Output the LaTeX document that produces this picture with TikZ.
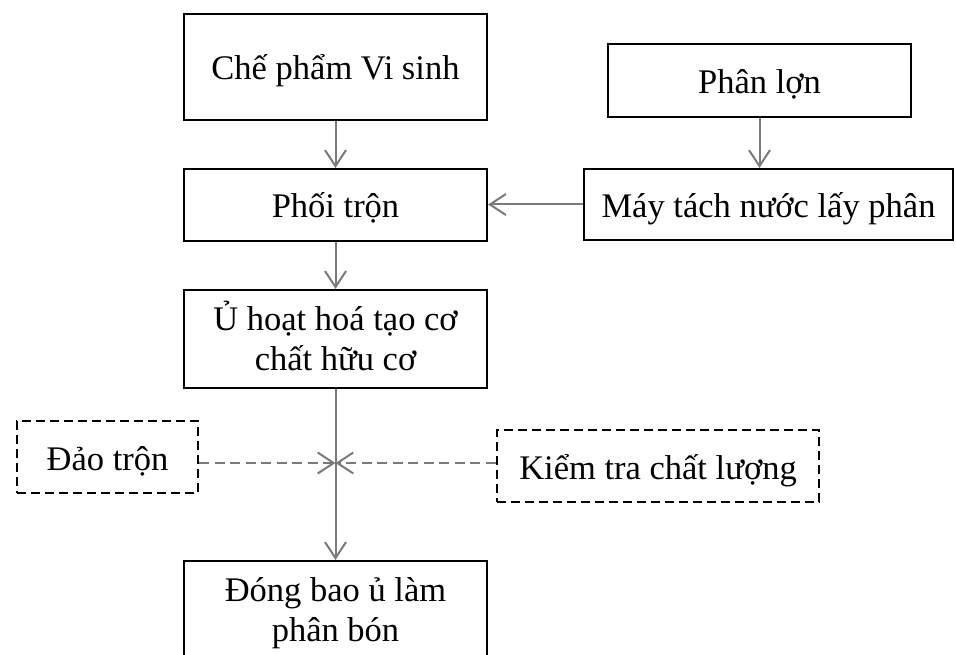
\documentclass[tikz,border=0pt]{standalone}
\usepackage{fontspec}
\setmainfont{Liberation Serif}
\usetikzlibrary{arrows.meta}
\definecolor{arrowgray}{RGB}{122,122,122}
\begin{document}
\begin{tikzpicture}[x=1pt,y=-1pt,
  boxnode/.style={draw=black, line width=2.2pt, inner sep=0pt,
    font=\fontsize{34.5}{40}\selectfont, align=center},
  oneline/.style={text height=26pt, text depth=0pt},
  twoline/.style={text height=66pt, text depth=4pt},
  dashbox/.style={boxnode, dash pattern=on 9pt off 5pt},
  flow/.style={draw=arrowgray, line width=2pt,
    -{Straight Barb[length=16pt,width=21pt,line width=2pt]}},
  dflow/.style={flow, dash pattern=on 10pt off 5.5pt}]
\useasboundingbox (0,0) rectangle (956,655);
\clip (0,0) rectangle (956,655);
\fill[white] (0,0) rectangle (956,655);

\node[boxnode,oneline,minimum width=303pt,minimum height=106pt] (b1) at (335.5,67) {Chế phẩm Vi sinh};
\node[boxnode,oneline,minimum width=303pt,minimum height=72pt] (b2) at (335.5,205) {Phối trộn};
\node[boxnode,twoline,minimum width=303pt,minimum height=98pt] (b3) at (335.5,339) {Ủ hoạt hoá tạo cơ\\chất hữu cơ};
\node[boxnode,twoline,minimum width=303pt,minimum height=98pt] (b4) at (335.5,610) {Đóng bao ủ làm\\phân bón};
\node[boxnode,oneline,minimum width=303pt,minimum height=73pt] (pl) at (759.5,80.5) {Phân lợn};
\node[boxnode,oneline,minimum width=369pt,minimum height=71pt] (may) at (768.5,204.5) {Máy tách nước lấy phân};
\node[dashbox,oneline,minimum width=181pt,minimum height=72pt] (dao) at (107.5,457) {Đảo trộn};
\node[dashbox,oneline,minimum width=322pt,minimum height=72pt] (kt) at (658,466) {Kiểm tra chất lượng};

\coordinate (jn) at (335.5,463);

\draw[flow] (b1.south) -- (b2.north);
\draw[flow] (b2.south) -- (b3.north);
\draw[flow] (b3.south) -- (b4.north);
\draw[flow] (pl.south) -- (pl.south |- may.north);
\draw[flow] (may.west) -- (b2.east |- may.west);
\draw[dflow] (dao.east |- jn) -- (jn);
\draw[dflow] (kt.west |- jn) -- (jn);
\end{tikzpicture}
\end{document}
